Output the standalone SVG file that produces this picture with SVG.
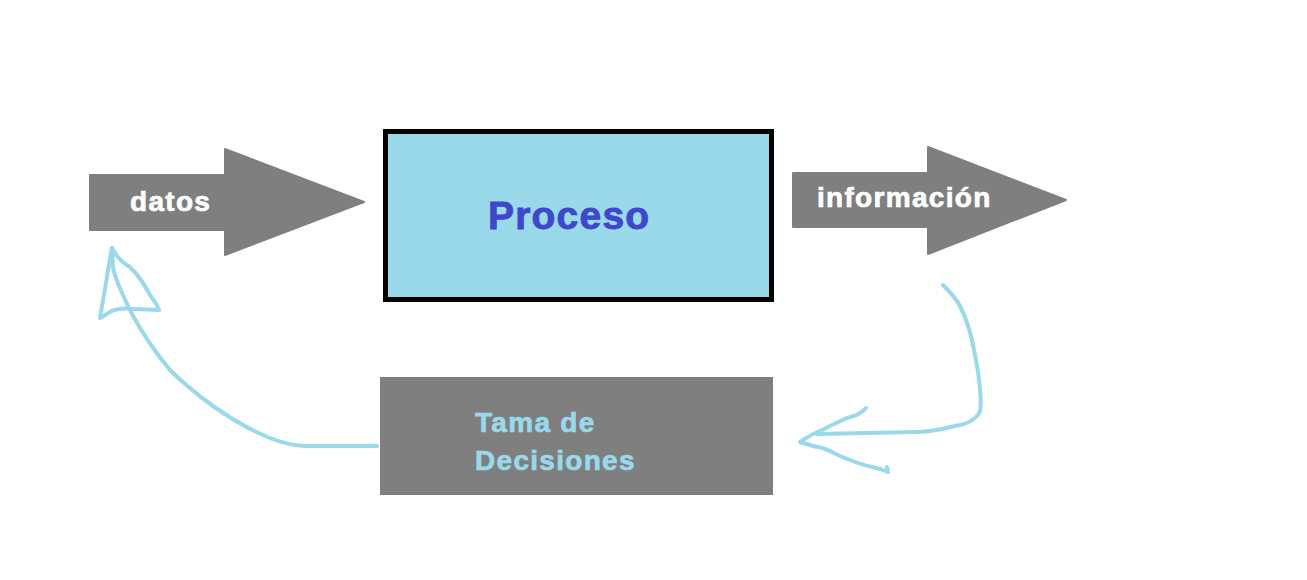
<svg xmlns="http://www.w3.org/2000/svg" width="1307" height="580" viewBox="0 0 1307 580">
<style>
.arrow{fill:#7f7f7f;stroke:#7f7f7f;stroke-width:2;stroke-linejoin:round}
.lbl{font-family:"Liberation Sans",Arial,sans-serif;font-weight:bold;font-size:28px;letter-spacing:1.3px;stroke-width:0.7px}
.sketch{fill:none;stroke:#99d9ea;stroke-width:4;stroke-linecap:round;stroke-linejoin:round}
</style>
<rect width="1307" height="580" fill="#ffffff"/>
<g id="datos">
<path class="arrow" d="M90,175 L225,175 L225,149 L364,202 L225,255 L225,230 L90,230 Z"/>
<text class="lbl" x="130" y="211" fill="#ffffff" stroke="#ffffff">datos</text>
</g>
<g id="informacion">
<path class="arrow" d="M793,173 L928,173 L928,147 L1066,200 L928,254 L928,227 L793,227 Z"/>
<text class="lbl" x="817" y="207" fill="#ffffff" stroke="#ffffff">información</text>
</g>
<g id="proceso">
<rect x="385.5" y="131.5" width="386" height="168" fill="#99d9ea" stroke="#000000" stroke-width="5"/>
<text x="488" y="229" font-family="Liberation Sans, Arial, sans-serif" font-weight="bold" font-size="39" letter-spacing="1.2" fill="#3f48cc" stroke="#3f48cc" stroke-width="0.9">Proceso</text>
</g>
<g id="toma">
<rect x="380" y="377" width="393" height="118" fill="#7f7f7f"/>
<text class="lbl" fill="#99d9ea" stroke="#99d9ea"><tspan x="475" y="432">Tama de</tspan><tspan x="475" y="470">Decisiones</tspan></text>
</g>
<g id="connectors">
<path class="sketch" d="M377,446 L305,446 C290,445 282,443 270,438 C250,430 230,418 213,406 C195,393 185,385 170,370 C155,352 145,338 132,314 C125,300 115,280 113,267 L112,248"/>
<path class="sketch" d="M112,248 C116,256 121,262 130,267 C138,275 145,285 150,295 C155,302 158,306 159,310 L135,309 C125,308 115,309 110,312 C105,315 102,317 100,318 C102,305 106,285 108,270 C110,260 111,252 112,248 Z"/>
<path class="sketch" d="M943,285 C950,292 956,298 960,306 C966,318 970,330 973,345 C976,360 979,372 980,390 C981,400 981,406 980,412 C975,420 968,424 955,426 C940,430 930,432 915,432 L817,434"/>
<path class="sketch" d="M866,408 C862,413 856,416 847,418 C838,422 830,426 822,430 C812,434 806,438 800,442 C806,444 812,446 818,447 C825,448 832,452 840,456 C852,461 862,465 872,467 C878,468 884,470 888,472 L887,467"/>
</g>
</svg>
